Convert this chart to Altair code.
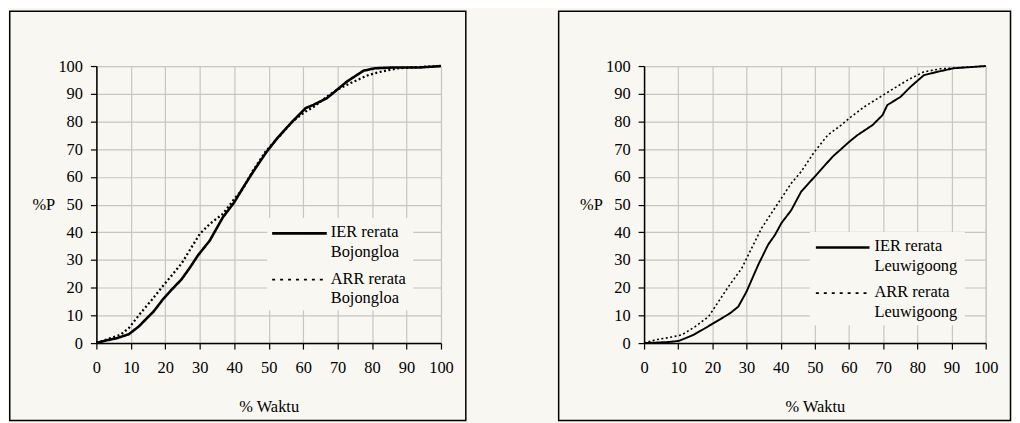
import altair as alt
import pandas as pd

# ---------------- data ----------------
x_ticks = [0, 10, 20, 30, 40, 50, 60, 70, 80, 90, 100]
y_ticks = [0, 10, 20, 30, 40, 50, 60, 70, 80, 90, 100]

names_b = ["IER rerata\nBojongloa", "ARR rerata\nBojongloa"]
names_l = ["IER rerata\nLeuwigoong", "ARR rerata\nLeuwigoong"]

ier_b_x = [0, 3, 6, 9.4, 12.3, 14.5, 16.6, 19.5, 22, 24.7, 27, 29.5, 32.9, 36.7, 40, 42.5, 45.3, 49.2,
           52.5, 56.9, 60.7, 63, 66.9, 69.8, 72.7, 77.5, 80.8, 86.6, 94, 100]
ier_b_y = [0, 1, 1.8, 3.2, 6, 8.8, 11.4, 16.1, 19.5, 23, 27, 31.7, 37, 45.4, 50.8, 56, 61.5, 68.7,
           74, 80, 84.8, 86, 88.4, 91.4, 94.4, 98.3, 99.2, 99.5, 99.5, 100]
arr_b_x = [0, 4.1, 7, 9.4, 12.8, 16, 19.5, 24.7, 30, 32.9, 36.7, 40, 42.5, 45.3, 49.2, 53, 56.9,
           60.7, 63, 66.9, 69.8, 74, 79, 82.7, 87.5, 93, 100]
arr_b_y = [0, 1.8, 3, 5.4, 10.8, 15.5, 20.9, 28.7, 39.4, 43, 46.6, 52, 55.6, 62, 69.3, 74.5, 80,
           83.6, 85.2, 89, 91.4, 94, 96.8, 98, 99.2, 99.6, 100]

ier_l_x = [0, 7.3, 10.2, 14.5, 17.9, 22.8, 25.2, 27.6, 30, 33.4, 36.3, 38.3, 40.2, 43.1, 46, 49.9,
           55.2, 60.1, 62.5, 66.9, 69.8, 71.2, 75.1, 78, 81.9, 85.8, 90.6, 100]
ier_l_y = [0, 0.4, 0.8, 3, 5.4, 9, 10.8, 13.2, 18.6, 28.2, 35.5, 39, 43.3, 48, 54.7, 60,
           67.3, 72.7, 75.1, 78.7, 82.3, 85.9, 88.9, 92.5, 96.7, 97.9, 99.2, 100]
arr_l_x = [0, 3.4, 7.3, 11.1, 15, 18.9, 21.8, 24.7, 28.6, 31.5, 34.4, 37.3, 40.2, 43.1, 46, 49.9,
           53.8, 57.7, 60.6, 64.5, 68.4, 72.3, 77.1, 81.9, 86.8, 100]
arr_l_y = [0, 1.2, 2, 3, 6, 9.6, 15, 20.4, 27, 34.3, 41.5, 46.9, 52.3, 57.7, 61.9, 69.1,
           75.1, 78.7, 81.7, 85.3, 88.3, 91.3, 94.9, 97.9, 99, 100]

BG = "#f8f7f2"
GRID = "#c6c6c6"
FONT = "Liberation Serif"
FS = 16.5


def series_df(xs, ys, name):
    return pd.DataFrame({"waktu": xs, "p": ys, "series": name})


def panel(df, names, width, height, frame, legend):
    fx, fy, fx2, fy2 = frame
    lx, ly, lx2, ly2, sx, sx2, tx, sy1, sy2 = legend
    xax = alt.Axis(values=x_ticks, title="% Waktu", titleY=64, titleBaseline="middle",
                   titleFontWeight="normal", labelPadding=11, tickSize=6,
                   labelFlush=False, labelOverlap=False)
    yax = alt.Axis(values=y_ticks, title="%P", titleAngle=0, titleAlign="right",
                   titleBaseline="middle", titleX=-42, titleY=height / 2,
                   titleFontWeight="normal", labelPadding=8, tickSize=6,
                   labelFlush=False, labelOverlap=False)
    base = alt.Chart(df).mark_line(color="black").encode(
        x=alt.X("waktu:Q", scale=alt.Scale(domain=[0, 100], nice=False), axis=xax),
        y=alt.Y("p:Q", scale=alt.Scale(domain=[0, 100], nice=False), axis=yax),
        strokeDash=alt.StrokeDash("series:N", scale=alt.Scale(domain=names, range=[[1, 0], [2, 2.5]]),
                                  legend=None),
        strokeWidth=alt.StrokeWidth("series:N", scale=alt.Scale(domain=names, range=[2.6, 1.6]),
                                    legend=None),
    )
    one = pd.DataFrame({"k": [0]})
    frame_mark = alt.Chart(one).mark_rect(fillOpacity=0, stroke="black", strokeWidth=1.5).encode(
        x=alt.value(fx), x2=alt.value(fx2), y=alt.value(fy), y2=alt.value(fy2))
    box = alt.Chart(one).mark_rect(fill=BG, strokeWidth=0).encode(
        x=alt.value(lx), x2=alt.value(lx2), y=alt.value(ly), y2=alt.value(ly2))
    layers = [base, box]
    for name, sy, dash, sw in [(names[0], sy1, [1, 0], 2.6), (names[1], sy2, [3, 5], 1.8)]:
        layers.append(alt.Chart(one).mark_rule(color="black", strokeWidth=sw, strokeDash=dash).encode(
            x=alt.value(sx), x2=alt.value(sx2), y=alt.value(sy)))
        layers.append(alt.Chart(one).mark_text(text=name, align="left", baseline="alphabetic",
                                               lineBreak="\n", lineHeight=20, font=FONT,
                                               fontSize=FS, color="black").encode(
            x=alt.value(tx), y=alt.value(sy + 4)))
    layers.append(frame_mark)
    return alt.layer(*layers).properties(width=width, height=height)


df_b = pd.concat([series_df(ier_b_x, ier_b_y, names_b[0]), series_df(arr_b_x, arr_b_y, names_b[1])])
df_l = pd.concat([series_df(ier_l_x, ier_l_y, names_l[0]), series_df(arr_l_x, arr_l_y, names_l[1])])

left = panel(df_b, names_b, 347, 279,
             (-87.25, -55.25, 372, 357),
             (172, 153, 319, 246, 177, 232, 236, 168.5, 215))
right = panel(df_l, names_l, 344, 279,
              (-86, -55.25, 369, 357),
              (167, 167, 323, 261, 173, 227, 232, 182.7, 228.7))

chart = alt.hconcat(left, right, spacing=89.5).properties(
    padding=0, background=BG
).configure_view(
    fill=BG, stroke=GRID, strokeWidth=1
).configure_axis(
    labelFont=FONT, titleFont=FONT, labelFontSize=FS, titleFontSize=FS,
    labelColor="black", titleColor="black",
    domainColor="black", domainWidth=1.5, tickColor="black", tickWidth=1.2,
    grid=True, gridColor=GRID, gridWidth=1.2
)

chart.save("out.html", embed_options={"renderer": "svg", "actions": False})
